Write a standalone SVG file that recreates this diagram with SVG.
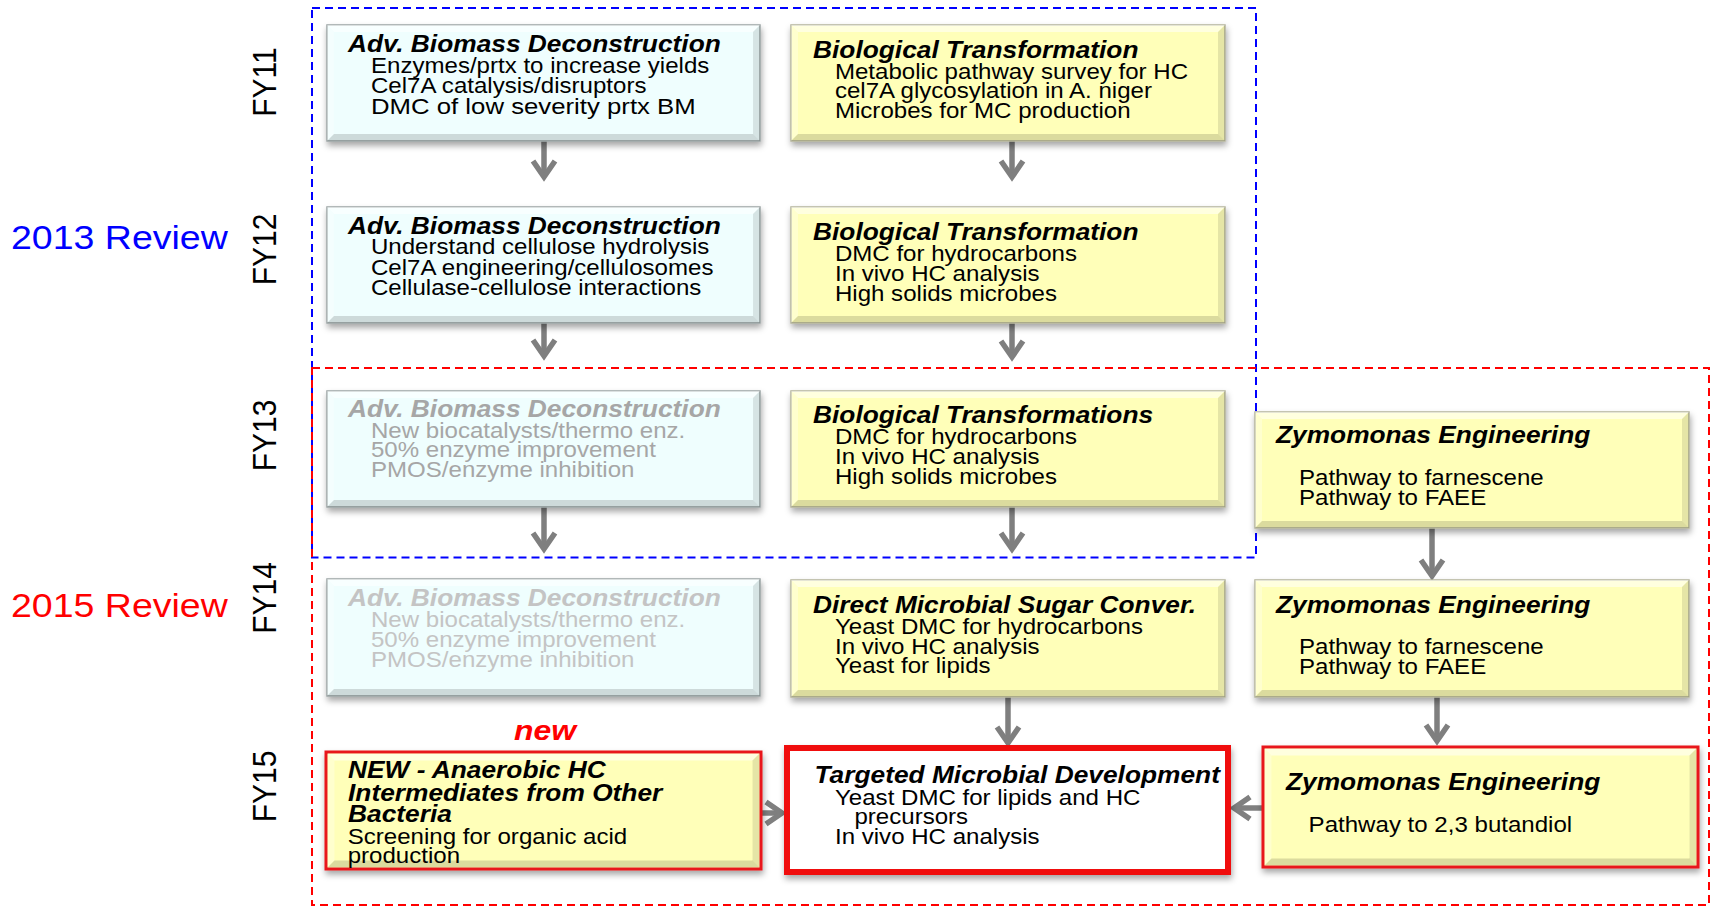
<svg xmlns="http://www.w3.org/2000/svg" xmlns:xlink="http://www.w3.org/1999/xlink" width="1713" height="907" viewBox="0 0 1713 907">
  <style>
    text { font-family: "Liberation Sans", Arial, sans-serif; }
    .ttl { font-size: 23.5px; font-weight: bold; font-style: italic; fill: #000; }
    .bd { font-size: 21.5px; fill: #000; }
    .big { font-size: 23px; }
    .dim1 text { fill: #a6a6a6; }
    .dim2 text { fill: #c4c4c4; }
    .fy { font-size: 30px; fill: #000; text-anchor: middle; }
    .rev { font-size: 33.5px; }
    .cyan { fill: #effefe; stroke: #9aa4a4; stroke-width: 1.5; }
    .yel { fill: #ffffb9; stroke: #b4b49a; stroke-width: 1.5; }
    .redb { stroke: #e8141a; stroke-width: 3; }
    .thick { fill: #ffffff; stroke: #f01010; stroke-width: 6; }
    .box { filter: url(#shadow); }
    .frame { fill: none; stroke-width: 2; stroke-dasharray: 8 5; }
    .conn line { stroke: #7f7f7f; stroke-width: 5.5; marker-end: url(#chev); }
  </style>
  <defs>
    <filter id="shadow" x="-5%" y="-10%" width="112%" height="130%">
      <feDropShadow dx="1" dy="4" stdDeviation="3" flood-color="#000" flood-opacity="0.35"/>
    </filter>
    <!-- bevelled edge overlay, stretched to each box -->
    <symbol id="bevel" viewBox="0 0 434 116" preserveAspectRatio="none">
      <polygon points="0,0 434,0 427,7 7,7" fill="#ffffff" opacity="0.55"/>
      <polygon points="0,0 7,7 7,109 0,116" fill="#ffffff" opacity="0.3"/>
      <polygon points="0,116 7,109 427,109 434,116" fill="#000000" opacity="0.14"/>
      <polygon points="434,0 434,116 427,109 427,7" fill="#000000" opacity="0.1"/>
    </symbol>
    <marker id="chev" viewBox="-30 -20 40 40" markerWidth="40" markerHeight="40" refX="0" refY="0" orient="auto" markerUnits="userSpaceOnUse">
      <path d="M-16,-11 L0,0 L-16,11" fill="none" stroke="#7f7f7f" stroke-width="5.5"/>
    </marker>
  </defs>

  <rect width="1713" height="907" fill="#ffffff"/>

  <!-- review frames -->
  <g id="frames">
    <rect class="frame" x="312" y="8" width="944" height="549.5" stroke="#0000ff"/>
    <rect class="frame" x="312" y="368" width="1397" height="537" stroke="#ff0000"/>
  </g>

  <!-- side labels -->
  <g id="labels">
    <text class="fy" transform="translate(276,82) scale(1.12,1) rotate(-90)">FY11</text>
    <text class="fy" transform="translate(276,249.5) scale(1.12,1) rotate(-90)">FY12</text>
    <text class="fy" transform="translate(276,435.5) scale(1.12,1) rotate(-90)">FY13</text>
    <text class="fy" transform="translate(276,598) scale(1.12,1) rotate(-90)">FY14</text>
    <text class="fy" transform="translate(276,786.5) scale(1.12,1) rotate(-90)">FY15</text>
    <text class="rev" transform="translate(11,0) scale(1.12,1)" x="0" y="249" fill="#0000ff">2013 Review</text>
    <text class="rev" transform="translate(11,0) scale(1.12,1)" x="0" y="617" fill="#ff0000">2015 Review</text>
    <text transform="translate(545,0) scale(1.12,1)" x="0" y="740" text-anchor="middle" font-size="28.5" font-weight="bold" font-style="italic" fill="#ff0000">new</text>
  </g>

  <!-- connectors -->
  <g id="connectors" class="conn">
    <line x1="544" y1="141" x2="544" y2="177"/>
    <line x1="544" y1="323" x2="544" y2="356"/>
    <line x1="544" y1="507" x2="544" y2="549"/>
    <line x1="1012" y1="141" x2="1012" y2="177"/>
    <line x1="1012" y1="323" x2="1012" y2="357"/>
    <line x1="1012" y1="507" x2="1012" y2="549"/>
    <line x1="1008" y1="697" x2="1008" y2="743"/>
    <line x1="1432" y1="528" x2="1432" y2="576"/>
    <line x1="1437" y1="697" x2="1437" y2="741"/>
    <line x1="761" y1="813" x2="782" y2="813"/>
    <line x1="1263" y1="808" x2="1234" y2="808"/>
  </g>

  <!-- FY11 -->
  <g id="adv-fy11">
    <rect class="box cyan" x="327" y="25" width="433" height="116"/>
    <use href="#bevel" x="327" y="25" width="433" height="116"/>
    <g transform="translate(348,0) scale(1.12,1)">
      <text class="ttl" x="0" y="52">Adv. Biomass Deconstruction</text>
      <text class="bd" x="20.5" y="73">Enzymes/prtx to increase yields</text>
      <text class="bd" x="20.5" y="93">Cel7A catalysis/disruptors</text>
      <text class="bd big" x="20.5" y="114.5">DMC of low severity prtx BM</text>
    </g>
  </g>
  <g id="bio-fy11">
    <rect class="box yel" x="791" y="25" width="434" height="116"/>
    <use href="#bevel" x="791" y="25" width="434" height="116"/>
    <g transform="translate(813,0) scale(1.12,1)">
      <text class="ttl" x="0" y="58.5">Biological Transformation</text>
      <text class="bd" x="19.6" y="79">Metabolic pathway survey for HC</text>
      <text class="bd" x="19.6" y="98.5">cel7A glycosylation in A. niger</text>
      <text class="bd" x="19.6" y="118.5">Microbes for MC production</text>
    </g>
  </g>

  <!-- FY12 -->
  <g id="adv-fy12">
    <rect class="box cyan" x="327" y="207" width="433" height="116"/>
    <use href="#bevel" x="327" y="207" width="433" height="116"/>
    <g transform="translate(348,0) scale(1.12,1)">
      <text class="ttl" x="0" y="234.5">Adv. Biomass Deconstruction</text>
      <text class="bd" x="20.5" y="254.5">Understand cellulose hydrolysis</text>
      <text class="bd" x="20.5" y="275">Cel7A engineering/cellulosomes</text>
      <text class="bd" x="20.5" y="295">Cellulase-cellulose interactions</text>
    </g>
  </g>
  <g id="bio-fy12">
    <rect class="box yel" x="791" y="207" width="434" height="116"/>
    <use href="#bevel" x="791" y="207" width="434" height="116"/>
    <g transform="translate(813,0) scale(1.12,1)">
      <text class="ttl" x="0" y="240">Biological Transformation</text>
      <text class="bd" x="19.6" y="261.5">DMC for hydrocarbons</text>
      <text class="bd" x="19.6" y="281">In vivo HC analysis</text>
      <text class="bd" x="19.6" y="301">High solids microbes</text>
    </g>
  </g>

  <!-- FY13 -->
  <g id="adv-fy13">
    <rect class="box cyan" x="327" y="391" width="433" height="116"/>
    <use href="#bevel" x="327" y="391" width="433" height="116"/>
    <g class="dim1" transform="translate(348,0) scale(1.12,1)">
      <text class="ttl" x="0" y="417">Adv. Biomass Deconstruction</text>
      <text class="bd" x="20.5" y="438">New biocatalysts/thermo enz.</text>
      <text class="bd" x="20.5" y="457.5">50% enzyme improvement</text>
      <text class="bd" x="20.5" y="477.5">PMOS/enzyme inhibition</text>
    </g>
  </g>
  <g id="bio-fy13">
    <rect class="box yel" x="791" y="391" width="434" height="116"/>
    <use href="#bevel" x="791" y="391" width="434" height="116"/>
    <g transform="translate(813,0) scale(1.12,1)">
      <text class="ttl" x="0" y="423.5">Biological Transformations</text>
      <text class="bd" x="19.6" y="444">DMC for hydrocarbons</text>
      <text class="bd" x="19.6" y="464">In vivo HC analysis</text>
      <text class="bd" x="19.6" y="484">High solids microbes</text>
    </g>
  </g>
  <g id="zymo-fy13">
    <rect class="box yel" x="1255" y="412" width="434" height="116"/>
    <use href="#bevel" x="1255" y="412" width="434" height="116"/>
    <g transform="translate(1276,0) scale(1.12,1)">
      <text class="ttl" x="0" y="443.5">Zymomonas Engineering</text>
      <text class="bd" x="20.5" y="485">Pathway to farnescene</text>
      <text class="bd" x="20.5" y="505.5">Pathway to FAEE</text>
    </g>
  </g>

  <!-- FY14 -->
  <g id="adv-fy14">
    <rect class="box cyan" x="327" y="579" width="433" height="117"/>
    <use href="#bevel" x="327" y="579" width="433" height="117"/>
    <g class="dim2" transform="translate(348,0) scale(1.12,1)">
      <text class="ttl" x="0" y="606">Adv. Biomass Deconstruction</text>
      <text class="bd" x="20.5" y="627">New biocatalysts/thermo enz.</text>
      <text class="bd" x="20.5" y="647">50% enzyme improvement</text>
      <text class="bd" x="20.5" y="667">PMOS/enzyme inhibition</text>
    </g>
  </g>
  <g id="dmsc-fy14">
    <rect class="box yel" x="791" y="580" width="434" height="117"/>
    <use href="#bevel" x="791" y="580" width="434" height="117"/>
    <g transform="translate(813,0) scale(1.12,1)">
      <text class="ttl" x="0" y="613.5">Direct Microbial Sugar Conver.</text>
      <text class="bd" x="19.6" y="634">Yeast DMC for hydrocarbons</text>
      <text class="bd" x="19.6" y="654">In vivo HC analysis</text>
      <text class="bd" x="19.6" y="673.5">Yeast for lipids</text>
    </g>
  </g>
  <g id="zymo-fy14">
    <rect class="box yel" x="1255" y="580" width="434" height="117"/>
    <use href="#bevel" x="1255" y="580" width="434" height="117"/>
    <g transform="translate(1276,0) scale(1.12,1)">
      <text class="ttl" x="0" y="613.5">Zymomonas Engineering</text>
      <text class="bd" x="20.5" y="654">Pathway to farnescene</text>
      <text class="bd" x="20.5" y="674">Pathway to FAEE</text>
    </g>
  </g>

  <!-- FY15 -->
  <g id="anaerobic-fy15">
    <rect class="box yel redb" x="326" y="752" width="435" height="117"/>
    <use href="#bevel" x="327.5" y="753.5" width="432" height="114"/>
    <g transform="translate(348,0) scale(1.12,1)">
      <text class="ttl" x="0" y="778.5">NEW - Anaerobic HC</text>
      <text class="ttl" x="0" y="801.5">Intermediates from Other</text>
      <text class="ttl" x="0" y="822.5">Bacteria</text>
      <text class="bd" x="-0.3" y="844">Screening for organic acid</text>
      <text class="bd" x="-0.3" y="863.5">production</text>
    </g>
  </g>
  <g id="targeted-fy15">
    <rect class="box thick" x="787" y="748" width="441" height="124"/>
    <g transform="translate(814.5,0) scale(1.12,1)">
      <text class="ttl" x="0" y="783.5">Targeted Microbial Development</text>
      <text class="bd" x="18.3" y="805">Yeast DMC for lipids and HC</text>
      <text class="bd" x="35.7" y="824">precursors</text>
      <text class="bd" x="18.3" y="844">In vivo HC analysis</text>
    </g>
  </g>
  <g id="zymo-fy15">
    <rect class="box yel redb" x="1263" y="747" width="435" height="120"/>
    <use href="#bevel" x="1264.5" y="748.5" width="432" height="117"/>
    <g transform="translate(1286,0) scale(1.12,1)">
      <text class="ttl" x="0" y="790">Zymomonas Engineering</text>
      <text class="bd" x="20.2" y="832">Pathway to 2,3 butandiol</text>
    </g>
  </g>
</svg>
